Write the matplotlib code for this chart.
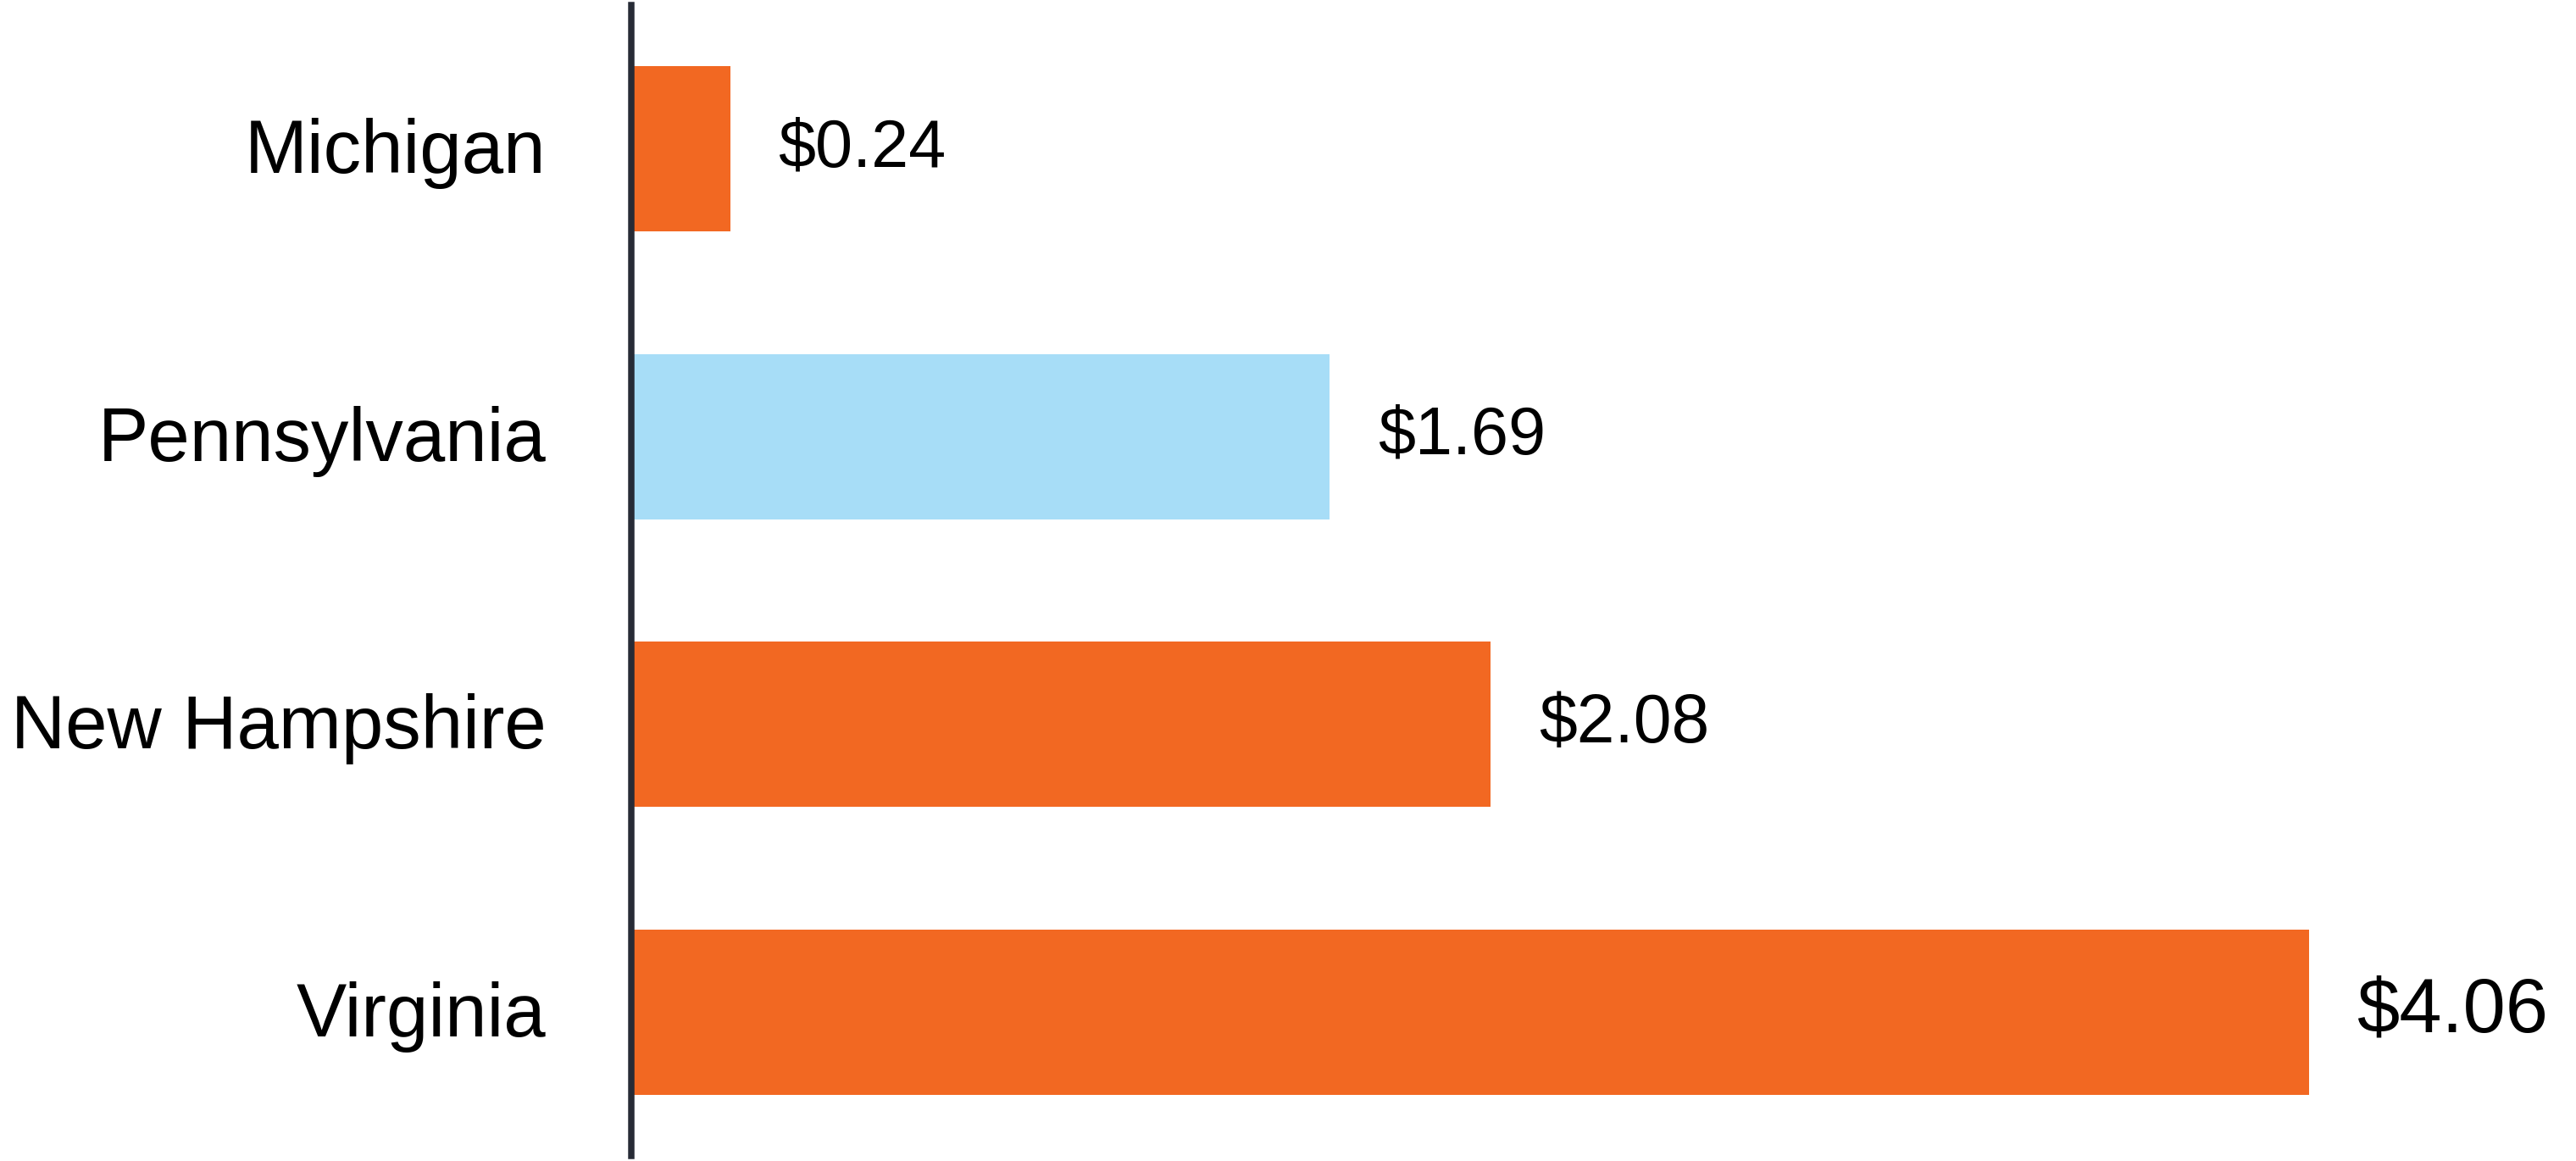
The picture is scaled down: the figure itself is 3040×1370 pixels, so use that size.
import matplotlib
matplotlib.use('Agg')
import matplotlib.pyplot as plt
import matplotlib.transforms as mtransforms

plt.rcParams['font.family'] = ['Liberation Sans', 'DejaVu Sans']

states = ['Michigan', 'Pennsylvania', 'New Hampshire', 'Virginia']
values = [0.24, 1.69, 2.08, 4.06]
labels = ['$0.24', '$1.69', '$2.08', '$4.06']
label_sizes = [57, 57, 58, 65]

orange = '#F26822'
blue = '#A7DDF7'
colors = [orange, blue, orange, orange]

fig = plt.figure(figsize=(30.4, 13.7), dpi=100)
ax = fig.add_axes([744.5 / 3040, 6 / 1370, 1 - 744.5 / 3040, 1 - 12 / 1370])

y = list(range(len(states)))
ax.barh(y, values, height=0.574, color=colors)

for yi, v, lab, fs in zip(y, values, labels, label_sizes):
    ax.annotate(lab, xy=(v, yi), xytext=(41, 0), textcoords='offset points',
                va='center', ha='left', fontsize=fs, color='black')

ax.set_yticks(y)
ax.set_yticklabels(states, fontsize=64)
ax.set_ylim(3.5, -0.5)
ax.set_xlim(0, (3040 - 744.5) / 487.7)
ax.tick_params(axis='y', length=0, pad=72)
ax.set_xticks([])

# nudge state names up a little
shift = mtransforms.ScaledTranslation(0, 4 / 100, fig.dpi_scale_trans)
for t in ax.get_yticklabels():
    t.set_transform(t.get_transform() + shift)

for s in ['top', 'right', 'bottom']:
    ax.spines[s].set_visible(False)
ax.spines['left'].set_linewidth(5.4)
ax.spines['left'].set_color('#272B36')

fig.savefig('out.png', dpi=100)
